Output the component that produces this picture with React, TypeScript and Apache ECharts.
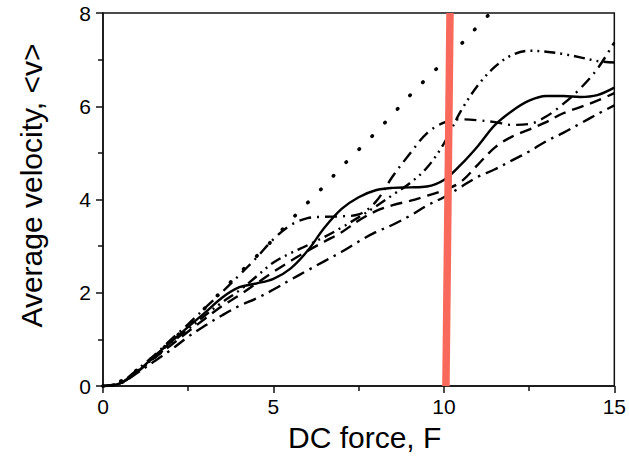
import React, { useEffect, useRef } from "react";
import * as echarts from "echarts";

// DC force grid (x values) shared by the full-range curves
const force = [0, 0.5, 1, 1.5, 2, 2.5, 3, 3.5, 4, 4.5, 5, 5.5, 6, 6.5, 7, 7.5, 8, 8.5, 9, 9.5, 10, 10.5, 11, 11.5, 12, 12.5, 13, 13.5, 14, 14.5, 15];

// Dotted curve (leaves the plot at the top)
const forceDotted = [0, 0.5, 1, 1.5, 2, 2.5, 3, 3.5, 4, 4.5, 5, 5.5, 6, 6.5, 7, 7.5, 8, 8.5, 9, 9.5, 10, 10.5, 11, 11.5];
const vDotted = [0, 0.1, 0.35, 0.64, 0.97, 1.3, 1.68, 2.05, 2.42, 2.78, 3.15, 3.55, 3.93, 4.3, 4.7, 5.07, 5.44, 5.83, 6.23, 6.6, 6.96, 7.33, 7.72, 8.1];

// Solid curve
const vSolid = [0, 0.06, 0.3, 0.64, 0.95, 1.27, 1.58, 1.9, 2.12, 2.2, 2.3, 2.52, 2.9, 3.4, 3.8, 4.05, 4.2, 4.25, 4.26, 4.28, 4.42, 4.75, 5.15, 5.6, 5.9, 6.12, 6.22, 6.22, 6.2, 6.24, 6.4];

// Dash-dot-dot curve (peaks near 7.2)
const vDashDotDot = [0, 0.06, 0.32, 0.6, 0.92, 1.22, 1.52, 1.8, 2.05, 2.35, 2.65, 2.85, 3.02, 3.2, 3.4, 3.62, 3.85, 4.1, 4.35, 4.68, 5.2, 5.9, 6.45, 6.85, 7.1, 7.19, 7.17, 7.12, 7.05, 6.97, 6.94];

// Dash-dot curve with plateau near 5.7
const vDashDotPlateau = [0, 0.07, 0.35, 0.66, 1.0, 1.33, 1.68, 2.02, 2.38, 2.75, 3.15, 3.45, 3.6, 3.63, 3.64, 3.68, 3.95, 4.5, 4.98, 5.42, 5.65, 5.72, 5.7, 5.66, 5.6, 5.62, 5.78, 6.05, 6.38, 6.8, 7.37];

// Dashed curve
const vDashed = [0, 0.06, 0.3, 0.6, 0.88, 1.17, 1.45, 1.72, 1.95, 2.2, 2.45, 2.68, 2.9, 3.1, 3.3, 3.55, 3.75, 3.88, 3.97, 4.08, 4.2, 4.38, 4.75, 5.12, 5.35, 5.5, 5.66, 5.85, 5.98, 6.12, 6.28];

// Lowest dash-dot curve
const vDashDotLow = [0, 0.05, 0.28, 0.53, 0.78, 1.06, 1.3, 1.52, 1.72, 1.88, 2.07, 2.28, 2.48, 2.68, 2.88, 3.1, 3.3, 3.46, 3.65, 3.87, 4.05, 4.27, 4.49, 4.65, 4.84, 5.03, 5.25, 5.43, 5.63, 5.83, 6.02];

// Red marker line
const redForce = [10.06, 10.18];
const redVel = [0, 8];

const xTicks = [0, 5, 10, 15];
const yTicks = [0, 2, 4, 6, 8];

const zip = (xs: number[], ys: number[]) => xs.map((x, i) => [x, ys[i]]);

export default function App() {
  const ref = useRef<HTMLDivElement>(null);
  useEffect(() => {
    if (!ref.current) return;
    const chart = echarts.init(ref.current, null, { renderer: "svg" });
    const font = "Liberation Sans, Arial, sans-serif";
    const lineSeries = (name: string, xs: number[], ys: number[], type: any, width = 2.2, cap = "butt") => ({
      name,
      type: "line",
      data: zip(xs, ys),
      smooth: 0.35,
      showSymbol: false,
      symbol: "none",
      clip: true,
      lineStyle: { color: "#000", width, type, cap },
      z: 2,
    });
    const tickStyle = { color: "#111", width: 1.5 };
    chart.setOption({
      animation: false,
      backgroundColor: "#fff",
      grid: { left: 103, right: 13, top: 13, bottom: 67, show: true, borderColor: "#111", borderWidth: 1.5, backgroundColor: "transparent" },
      xAxis: {
        type: "value",
        min: xTicks[0],
        max: xTicks[xTicks.length - 1],
        interval: 5,
        name: "DC force, F",
        nameLocation: "middle",
        nameGap: 31,
        nameTextStyle: { fontFamily: font, fontSize: 30, color: "#000", padding: [0, 0, 0, 12] },
        axisLine: { lineStyle: tickStyle },
        axisTick: { inside: false, length: 7, lineStyle: tickStyle },
        minorTick: { show: true, splitNumber: 2, length: 5, lineStyle: tickStyle },
        axisLabel: { fontFamily: font, fontSize: 21, color: "#000", margin: 10 },
        splitLine: { show: false },
      },
      yAxis: {
        type: "value",
        min: yTicks[0],
        max: yTicks[yTicks.length - 1],
        interval: 2,
        name: "Average velocity, <v>",
        nameLocation: "middle",
        nameGap: 57,
        nameTextStyle: { fontFamily: font, fontSize: 30, color: "#000", padding: [0, 0, 0, 28] },
        axisLine: { lineStyle: tickStyle },
        axisTick: { inside: false, length: 7, lineStyle: tickStyle },
        minorTick: { show: true, splitNumber: 2, length: 5, lineStyle: tickStyle },
        axisLabel: { fontFamily: font, fontSize: 21, color: "#000", margin: 12 },
        splitLine: { show: false },
      },
      series: [
        lineSeries("dotted", forceDotted, vDotted, [0.5, 18], 3.6, "round"),
        lineSeries("solid", force, vSolid, "solid", 2.4),
        lineSeries("dash-dot-dot", force, vDashDotDot, [11, 5, 2, 5, 2, 5], 2.4),
        lineSeries("dash-dot plateau", force, vDashDotPlateau, [12, 6, 2, 6], 2.4),
        lineSeries("dashed", force, vDashed, [12, 7], 2.4),
        lineSeries("dash-dot low", force, vDashDotLow, [13, 6, 2.5, 6], 2.4),
        {
          name: "marker",
          type: "line",
          data: zip(redForce, redVel),
          showSymbol: false,
          symbol: "none",
          lineStyle: { color: "#f8685b", width: 7.5 },
          z: 5,
        },
      ],
    });
    return () => chart.dispose();
  }, []);
  return <div ref={ref} style={{ width: 629, height: 457, position: "absolute", left: 0, top: 0 }} />;
}
